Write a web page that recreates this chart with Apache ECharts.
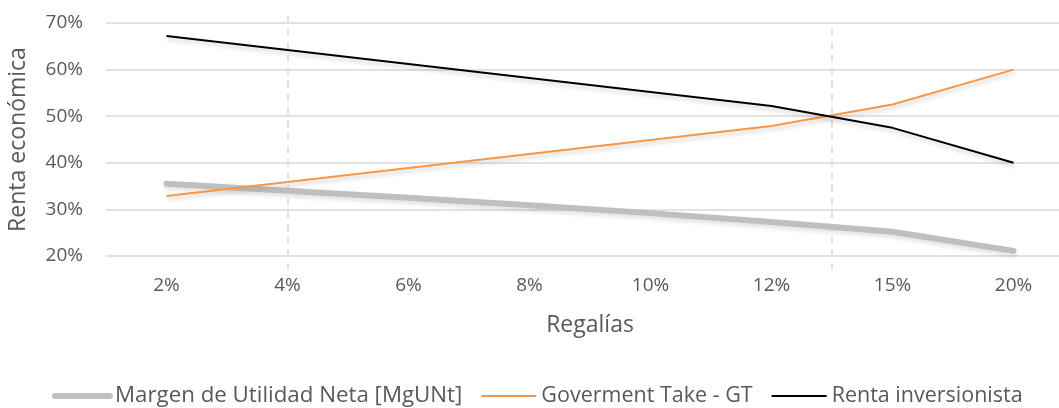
<!DOCTYPE html>
<html>
<head>
<meta charset="utf-8">
<script src="https://cdn.jsdelivr.net/npm/echarts@6/dist/echarts.min.js"></script>
<style>
  html, body { margin: 0; padding: 0; background: #fff; overflow: hidden; }
  /* the plot area runs slightly past the right edge of the window */
  #chart { width: 1074px; height: 408px; }
</style>
</head>
<body>
<div id="chart"></div>
<script>
// Royalty rates (x categories)
const categories = ['2%', '4%', '6%', '8%', '10%', '12%', '15%', '20%'];

// Series values, in percent
const margenUtilidad = [35.5, 34.0, 32.5, 30.9, 29.2, 27.3, 25.2, 21.1];
const govermentTake = [32.9, 35.9, 38.9, 41.9, 44.9, 47.9, 52.5, 60.0];
const rentaInversionista = [67.2, 64.2, 61.2, 58.2, 55.2, 52.2, 47.5, 40.0];

// Y axis range and step, in percent
const yMin = 20, yMax = 70, yStep = 10;

// Dashed reference lines, in category units (0 = left edge, 1 = one category width)
const refLines = [1.5, 6.0];

const FONT = 'Open Sans';
const TEXT = '#595959';

function shadow(alpha) {
  return {
    shadowColor: 'rgba(0,0,0,' + alpha + ')',
    shadowBlur: 4,
    shadowOffsetX: 1,
    shadowOffsetY: 3
  };
}

const chart = echarts.init(document.getElementById('chart'), null, { renderer: 'canvas' });

chart.setOption({
  animation: false,
  textStyle: { fontFamily: FONT },
  grid: [
    { left: 106, right: 0, top: 23, height: 233, outerBoundsMode: 'none', containLabel: false },
    { left: 106, right: 0, top: 15, height: 255, outerBoundsMode: 'none', containLabel: false }
  ],
  legend: {
    top: 385,
    left: 52,
    padding: 0,
    itemWidth: 55,
    itemHeight: 14,
    itemGap: 18,
    itemStyle: { opacity: 0 },
    textStyle: { fontFamily: FONT, fontSize: 21.5, color: TEXT },
    data: [
      { name: 'Margen de Utilidad Neta [MgUNt]', lineStyle: { width: 6, cap: 'round' },
        textStyle: { fontSize: 22.3 } },
      { name: 'Goverment Take - GT', lineStyle: { width: 2 } },
      { name: 'Renta inversionista', lineStyle: { width: 2 } }
    ]
  },
  xAxis: [
    {
      type: 'category',
      gridIndex: 0,
      data: categories,
      boundaryGap: true,
      axisLine: { show: false },
      axisTick: { show: false },
      axisLabel: { color: TEXT, fontSize: 19, margin: 20, fontFamily: FONT },
      name: 'Regalías',
      nameLocation: 'middle',
      nameGap: 58,
      nameTextStyle: { color: TEXT, fontSize: 23, fontFamily: FONT }
    },
    {
      type: 'value',
      gridIndex: 1,
      min: 0,
      max: categories.length,
      show: false
    }
  ],
  yAxis: [
    {
      type: 'value',
      gridIndex: 0,
      min: yMin,
      max: yMax,
      interval: yStep,
      axisLine: { show: false },
      axisTick: { show: false },
      axisLabel: { color: TEXT, fontSize: 19, margin: 23, formatter: '{value}%', fontFamily: FONT },
      splitLine: { lineStyle: { color: '#d9d9d9', width: 1.5 } },
      name: 'Renta económica',
      nameLocation: 'middle',
      nameGap: 76,
      nameRotate: 90,
      nameTextStyle: { color: TEXT, fontSize: 23, fontFamily: FONT }
    },
    {
      type: 'value',
      gridIndex: 1,
      min: 0,
      max: 1,
      show: false
    }
  ],
  series: [
    {
      type: 'lines',
      coordinateSystem: 'cartesian2d',
      xAxisIndex: 1,
      yAxisIndex: 1,
      silent: true,
      z: 1,
      lineStyle: { color: '#d9d9d9', width: 1.5, type: [7, 6], opacity: 1 },
      data: refLines.map((x, i) => ({ coords: [[x, 0], [x, i === 0 ? 1 : 0.97]] }))
    },
    {
      name: 'Margen de Utilidad Neta [MgUNt]',
      type: 'line',
      data: margenUtilidad,
      showSymbol: false,
      symbol: 'none',
      z: 3,
      color: '#bfbfbf',
      lineStyle: Object.assign({ color: '#bfbfbf', width: 6, cap: 'round' }, shadow(0.12))
    },
    {
      name: 'Goverment Take - GT',
      type: 'line',
      data: govermentTake,
      showSymbol: false,
      symbol: 'none',
      z: 4,
      color: '#f79646',
      lineStyle: Object.assign({ color: '#f79646', width: 2 }, shadow(0.2))
    },
    {
      name: 'Renta inversionista',
      type: 'line',
      data: rentaInversionista,
      showSymbol: false,
      symbol: 'none',
      z: 5,
      color: '#000000',
      lineStyle: Object.assign({ color: '#000000', width: 2 }, shadow(0.2))
    }
  ]
});
</script>
</body>
</html>
